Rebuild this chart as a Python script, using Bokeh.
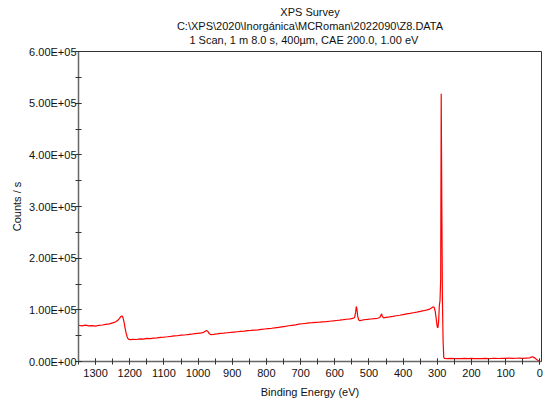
from bokeh.plotting import figure
from bokeh.models import Range1d, CustomJSTickFormatter, SingleIntervalTicker, Title, ColumnDataSource
from bokeh.embed import file_html
from bokeh.resources import INLINE

title_lines = ["XPS Survey",
               "C:\\XPS\\2020\\Inorgánica\\MCRoman\\2022090\\Z8.DATA",
               "1 Scan,  1 m 8.0 s,  400µm,  CAE 200.0,  1.00 eV"]
x_label = "Binding Energy (eV)"
y_label = "Counts / s"

binding_energy = [
    1350, 1340, 1330, 1320, 1310, 1300, 1290, 1280, 1270, 1260, 1250, 1245, 1240, 1235, 1230,
    1226, 1223, 1220, 1217, 1214, 1211, 1208, 1205, 1202, 1199, 1190, 1180, 1170, 1160, 1150,
    1140, 1130, 1120, 1110, 1100, 1090, 1080, 1070, 1060, 1050, 1040, 1030, 1020, 1010, 1000,
    990, 984, 979, 975, 971, 967, 963, 955, 945, 935, 925, 915, 905, 895, 885,
    875, 865, 855, 845, 835, 825, 815, 805, 795, 785, 775, 765, 755, 745, 735,
    725, 715, 705, 695, 685, 675, 665, 655, 645, 635, 625, 615, 605, 595, 585,
    575, 565, 555, 547, 542, 539, 537, 535, 533, 530, 527, 523, 515, 505, 495,
    485, 475, 468, 465, 463, 461, 458, 450, 440, 430, 420, 410, 400, 390, 380,
    370, 360, 350, 340, 330, 322, 316, 312, 309, 306, 303, 300, 298, 296, 294,
    292, 290, 288.5, 287, 285, 283, 281, 279, 270, 260, 250, 240, 230, 220, 210,
    200, 190, 180, 170, 160, 150, 140, 130, 120, 110, 100, 90, 80, 70, 60,
    50, 40, 30, 25, 22, 18, 14, 10, 6, 3, 0]

counts = [
    70200, 69100, 70400, 68800, 69600, 68400, 70100, 70600, 71800, 72900, 74800, 75600, 77400, 79800, 83600,
    87200, 88200, 85400, 77000, 66000, 56000, 48500, 44000, 42800, 42300, 42900, 42600, 43800, 43400, 44600,
    44300, 45400, 45900, 46800, 47300, 47900, 48600, 49500, 49800, 50900, 51300, 52200, 52800, 53900, 54600,
    55300, 56400, 58600, 60200, 57800, 53600, 52100, 52600, 53400, 54300, 54800, 55600, 56200, 56900, 57600,
    58300, 58900, 59600, 60100, 60800, 61200, 62100, 62900, 63600, 64300, 65200, 65900, 67100, 68000, 69200,
    70100, 71000, 72200, 73100, 73800, 74600, 75100, 75900, 76300, 76800, 77100, 77900, 78600, 79400, 80100,
    80900, 81800, 82600, 83300, 85000, 95000, 106500, 101000, 88000, 80500, 78800, 79600, 80800, 81400, 82300,
    82900, 83600, 85200, 89500, 92300, 88000, 84600, 85400, 86200, 87300, 88600, 89500, 90800, 92100, 93000,
    94400, 95600, 96900, 98300, 99800, 101400, 104200, 105800, 104500, 97000, 82000, 66500, 65500, 78000, 108000,
    118000, 160000, 518000, 330000, 120000, 40000, 8000, 6200, 5600, 5900, 5400, 5800, 5600, 6000, 5700,
    5900, 5500, 5800, 5600, 6100, 5700, 5900, 6200, 5800, 6300, 6100, 6400, 6000, 6300, 6700,
    6200, 6500, 6800, 8400, 9200, 8000, 6500, 4200, 2600, 1500, 900]

source = ColumnDataSource(data=dict(be=binding_energy, counts=counts))

FONT = "Liberation Sans"

p = figure(width=554, height=404, output_backend="svg", toolbar_location=None, title=None,
           x_range=Range1d(1350, -5), y_range=Range1d(0, 600000),
           min_border_left=78, min_border_right=13, min_border_top=51, min_border_bottom=43)

# invisible spacer nearest the frame, then the title lines from the plot outward
p.add_layout(Title(text=" ", text_font_size="1px", standoff=3), "above")
for txt in reversed(title_lines):
    t = Title(text=txt, align="center", text_font=FONT, text_font_size="11px",
              text_font_style="normal", text_color="#111111",
              standoff=0, offset=4)
    p.add_layout(t, "above")

p.line("be", "counts", source=source, line_color="#ff0000", line_width=1.2)

p.xgrid.visible = False
p.ygrid.visible = False
p.outline_line_color = "#333333"
p.outline_line_width = 1

p.xaxis.ticker = SingleIntervalTicker(interval=100, num_minor_ticks=2)
p.yaxis.ticker = SingleIntervalTicker(interval=100000, num_minor_ticks=2)
p.yaxis.formatter = CustomJSTickFormatter(code="""
    if (tick === 0) { return "0.00E+00"; }
    const e = Math.floor(Math.log10(Math.abs(tick)) + 1e-9);
    const m = tick / Math.pow(10, e);
    const s = String(Math.abs(e)).padStart(2, "0");
    return m.toFixed(2) + "E" + (e < 0 ? "-" : "+") + s;
""")

for ax in (p.xaxis[0], p.yaxis[0]):
    ax.axis_line_color = "#666666"
    ax.axis_line_width = 1.5
    ax.major_tick_line_color = "#333333"
    ax.minor_tick_line_color = "#333333"
    ax.major_tick_in = 3
    ax.major_tick_out = 3
    ax.minor_tick_in = 3
    ax.minor_tick_out = 3
    ax.major_label_text_font = FONT
    ax.major_label_text_font_size = "11px"
    ax.major_label_text_color = "#111111"
    ax.axis_label_text_font = FONT
    ax.axis_label_text_font_size = "11px"
    ax.axis_label_text_font_style = "normal"
    ax.axis_label_text_color = "#111111"

p.xaxis.axis_label = x_label
p.yaxis.axis_label = y_label
p.xaxis.major_label_standoff = 4
p.yaxis.major_label_standoff = -1
p.xaxis.axis_label_standoff = 6
p.yaxis.axis_label_standoff = 3

open("out.html", "w").write(file_html(p, INLINE))
